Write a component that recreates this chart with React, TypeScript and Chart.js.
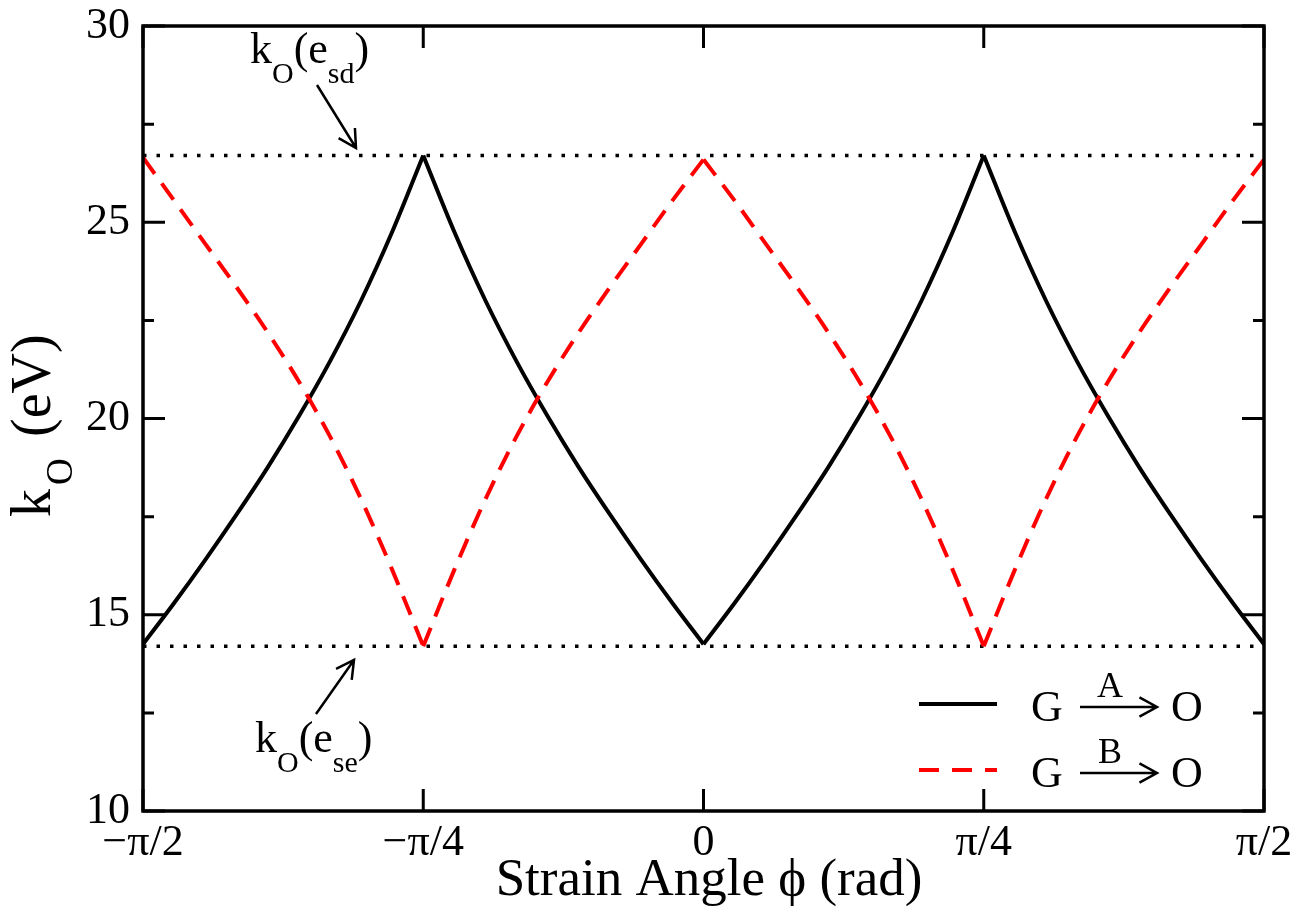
import React, { useEffect, useRef } from 'react';
import { Chart, registerables } from 'chart.js';

Chart.register(...registerables);

// ---- data ----
const angleDeg = [
  -90, -85, -80, -75, -70, -65, -60, -55, -50, -45,
  -40, -35, -30, -25, -20, -15, -10, -5, 0,
  5, 10, 15, 20, 25, 30, 35, 40, 45,
  50, 55, 60, 65, 70, 75, 80, 85, 90,
];
// G -A-> O (black solid)
const kA = [
  14.25, 15.3, 16.4, 17.55, 18.75, 20.05, 21.45, 23.0, 24.75, 26.7,
  24.75, 23.0, 21.45, 20.05, 18.75, 17.55, 16.4, 15.3, 14.25,
  15.3, 16.4, 17.55, 18.75, 20.05, 21.45, 23.0, 24.75, 26.7,
  24.75, 23.0, 21.45, 20.05, 18.75, 17.55, 16.4, 15.3, 14.25,
];
// G -B-> O (red dashed)
const kB = [
  26.65, 25.55, 24.45, 23.35, 22.2, 20.95, 19.55, 17.95, 16.15, 14.2,
  16.15, 17.95, 19.55, 20.95, 22.2, 23.35, 24.45, 25.55, 26.6,
  25.55, 24.45, 23.35, 22.2, 20.95, 19.55, 17.95, 16.15, 14.2,
  16.15, 17.95, 19.55, 20.95, 22.2, 23.35, 24.45, 25.55, 26.6,
];
// indices where each curve turns (cusps), so each monotone branch is smoothed on its own
const branchBreaks = [0, 9, 18, 27, 36];

const refLineX = [-90, 90];
const kEsd = [26.7, 26.7];
const kEse = [14.2, 14.2];

const xTickValues = [-90, -45, 0, 45, 90];
const xTickLabels = ['\u2212\u03c0/2', '\u2212\u03c0/4', '0', '\u03c0/4', '\u03c0/2'];
const yTickValues = [10, 15, 20, 25, 30];
const yMinorTicks = [12.5, 17.5, 22.5, 27.5];

const seriesLabels = ['A', 'B'];
const xTitle = 'Strain Angle \u03d5 (rad)';

const FAMILY = '"Liberation Serif", "Times New Roman", serif';
const font = (s: number) => `${s}px ${FAMILY}`;

type Part = { t: string; size: number; dy: number };

function drawParts(ctx: CanvasRenderingContext2D, parts: Part[], x: number, y: number) {
  let cx = x;
  for (const p of parts) {
    ctx.font = font(p.size);
    ctx.fillText(p.t, cx, y + p.dy);
    cx += ctx.measureText(p.t).width;
  }
}

function arrow(ctx: CanvasRenderingContext2D, x0: number, y0: number, x1: number, y1: number, head = 20, ang = 0.5) {
  const a = Math.atan2(y1 - y0, x1 - x0);
  ctx.beginPath();
  ctx.moveTo(x0, y0);
  ctx.lineTo(x1, y1);
  ctx.moveTo(x1 - head * Math.cos(a - ang), y1 - head * Math.sin(a - ang));
  ctx.lineTo(x1, y1);
  ctx.lineTo(x1 - head * Math.cos(a + ang), y1 - head * Math.sin(a + ang));
  ctx.stroke();
}

function branches(values: number[], base: any) {
  const out: any[] = [];
  for (let b = 0; b < branchBreaks.length - 1; b++) {
    const pts = [];
    for (let i = branchBreaks[b]; i <= branchBreaks[b + 1]; i++) pts.push({ x: angleDeg[i], y: values[i] });
    out.push({ ...base, data: pts });
  }
  return out;
}

const decorPlugin = {
  id: 'decor',
  afterDraw(chart: any) {
    const { ctx, chartArea: a, scales } = chart;
    const xs = scales.x;
    const ys = scales.y;
    ctx.save();
    ctx.strokeStyle = '#000';
    ctx.fillStyle = '#000';
    ctx.lineCap = 'butt';
    // frame
    ctx.lineWidth = 3.5;
    ctx.strokeRect(a.left, a.top, a.right - a.left, a.bottom - a.top);
    // inward ticks
    ctx.lineWidth = 3;
    ctx.beginPath();
    xTickValues.forEach((v) => {
      const px = xs.getPixelForValue(v);
      ctx.moveTo(px, a.bottom); ctx.lineTo(px, a.bottom - 22);
      ctx.moveTo(px, a.top); ctx.lineTo(px, a.top + 22);
    });
    yTickValues.forEach((v) => {
      const py = ys.getPixelForValue(v);
      ctx.moveTo(a.left, py); ctx.lineTo(a.left + 22, py);
      ctx.moveTo(a.right, py); ctx.lineTo(a.right - 22, py);
    });
    yMinorTicks.forEach((v) => {
      const py = ys.getPixelForValue(v);
      ctx.moveTo(a.left, py); ctx.lineTo(a.left + 11, py);
      ctx.moveTo(a.right, py); ctx.lineTo(a.right - 11, py);
    });
    ctx.stroke();

    // annotations
    ctx.textAlign = 'left';
    ctx.textBaseline = 'alphabetic';
    drawParts(ctx, [
      { t: 'k', size: 44, dy: 0 },
      { t: 'O', size: 30, dy: 20 },
      { t: '(e', size: 44, dy: 0 },
      { t: 'sd', size: 30, dy: 20 },
      { t: ')', size: 44, dy: 0 },
    ], 250, 63);
    drawParts(ctx, [
      { t: 'k', size: 44, dy: 0 },
      { t: 'O', size: 30, dy: 20 },
      { t: '(e', size: 44, dy: 0 },
      { t: 'se', size: 30, dy: 20 },
      { t: ')', size: 44, dy: 0 },
    ], 255, 752);
    ctx.lineWidth = 2.5;
    arrow(ctx, 317, 85, 356, 148);
    arrow(ctx, 316, 714, 354, 660);

    // legend
    ctx.lineWidth = 4;
    ctx.beginPath();
    ctx.moveTo(919, 704); ctx.lineTo(997, 704);
    ctx.stroke();
    ctx.strokeStyle = '#ff0000';
    ctx.setLineDash([20, 13]);
    ctx.beginPath();
    ctx.moveTo(919, 770); ctx.lineTo(997, 770);
    ctx.stroke();
    ctx.setLineDash([]);
    ctx.strokeStyle = '#000';
    const rows = [721, 787];
    rows.forEach((by, i) => {
      ctx.font = font(44);
      ctx.textAlign = 'left';
      ctx.fillText('G', 1031, by);
      ctx.fillText('O', 1171, by);
      ctx.lineWidth = 2.5;
      arrow(ctx, 1080, by - 14, 1157, by - 14, 20, 0.5);
      ctx.font = font(36);
      ctx.textAlign = 'center';
      ctx.fillText(seriesLabels[i], 1110, by - 24);
    });

    // x title
    ctx.textAlign = 'center';
    ctx.font = font(53);
    ctx.fillText(xTitle, 709, 895);

    // y title (rotated)
    ctx.save();
    ctx.translate(50, 517);
    ctx.rotate(-Math.PI / 2);
    ctx.textAlign = 'left';
    ctx.font = font(56);
    ctx.fillText('k', 0, 0);
    ctx.font = font(37);
    ctx.fillText('O', 32, 22);
    ctx.font = font(56);
    ctx.fillText('(eV)', 80, 0);
    ctx.restore();

    ctx.restore();
  },
};

export default function App() {
  const ref = useRef<HTMLCanvasElement>(null);
  useEffect(() => {
    const canvas = ref.current;
    if (!canvas) return;
    const redBase = {
      label: 'G -B-> O',
      borderColor: '#ff0000',
      borderWidth: 4,
      borderDash: [20, 12],
      pointRadius: 0,
      cubicInterpolationMode: 'monotone',
      order: 0,
    };
    const blackBase = {
      label: 'G -A-> O',
      borderColor: '#000000',
      borderWidth: 4,
      pointRadius: 0,
      cubicInterpolationMode: 'monotone',
      order: 1,
    };
    const chart = new Chart(canvas, {
      type: 'line',
      data: {
        datasets: [
          ...branches(kB, redBase),
          ...branches(kA, blackBase),
          {
            label: 'k_O(e_sd)',
            data: refLineX.map((x, i) => ({ x, y: kEsd[i] })),
            borderColor: '#000000',
            borderWidth: 3.5,
            borderDash: [3.5, 10],
            pointRadius: 0,
            order: 2,
          },
          {
            label: 'k_O(e_se)',
            data: refLineX.map((x, i) => ({ x, y: kEse[i] })),
            borderColor: '#000000',
            borderWidth: 3.5,
            borderDash: [3.5, 10],
            pointRadius: 0,
            order: 2,
          },
        ],
      },
      options: {
        responsive: false,
        animation: false,
        events: [],
        layout: { padding: { top: 26, right: 49, left: 0, bottom: 0 } },
        plugins: {
          legend: { display: false },
          tooltip: { enabled: false },
          title: { display: false },
        },
        scales: {
          x: {
            type: 'linear',
            min: -90,
            max: 90,
            grid: { display: false, drawTicks: false },
            border: { display: false },
            afterBuildTicks: (s: any) => {
              s.ticks = xTickValues.map((v) => ({ value: v }));
            },
            afterFit: (s: any) => {
              s.height = 113;
              s.paddingLeft = 0;
              s.paddingRight = 0;
            },
            ticks: {
              autoSkip: false,
              maxRotation: 0,
              padding: 10,
              color: '#000',
              font: { family: FAMILY, size: 44, lineHeight: 1 },
              callback: (v: any) => xTickLabels[xTickValues.indexOf(Number(v))] ?? '',
            },
          },
          y: {
            type: 'linear',
            min: 10,
            max: 30,
            grid: { display: false, drawTicks: false },
            border: { display: false },
            afterBuildTicks: (s: any) => {
              s.ticks = yTickValues.map((v) => ({ value: v }));
            },
            afterFit: (s: any) => {
              s.width = 143;
              s.paddingTop = 0;
              s.paddingBottom = 0;
            },
            ticks: {
              padding: 13,
              color: '#000',
              font: { family: FAMILY, size: 44, lineHeight: 1 },
              callback: (v: any) => String(v),
            },
          },
        },
      },
      plugins: [decorPlugin],
    });
    return () => chart.destroy();
  }, []);
  return (
    <div style={{ position: 'absolute', left: 0, top: 0, width: 1313, height: 924, background: '#fff' }}>
      <canvas ref={ref} width={1313} height={924} style={{ display: 'block' }} />
    </div>
  );
}
